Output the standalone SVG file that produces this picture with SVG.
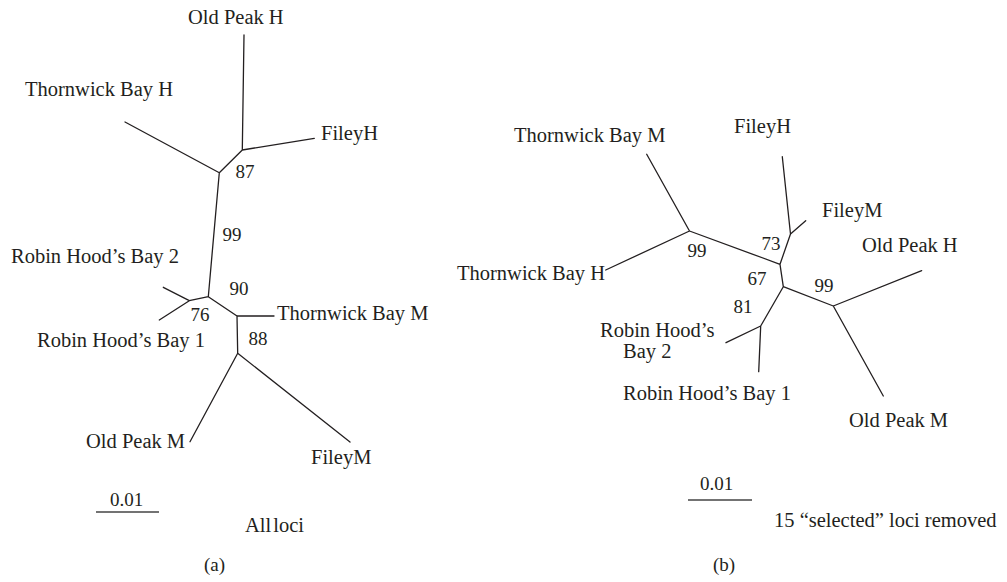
<svg xmlns="http://www.w3.org/2000/svg" width="1007" height="582" viewBox="0 0 1007 582">
<style>
text{font-family:"Liberation Serif","Times New Roman",serif;fill:#231f20}
.t{font-size:20.5px}
.n{font-size:19px;text-anchor:middle}
.s{font-size:19px}
.c{font-size:19px}
.e{fill:none;stroke:#231f20;stroke-width:1.3;stroke-linecap:round;stroke-linejoin:round}
.bar{stroke:#444;stroke-width:1.6}
</style>
<rect width="1007" height="582" fill="#fff"/>
<g id="connectors">
<!-- tree a -->
<path class="e" d="M244,35 L242.3,150 L314.3,138.3 M242.3,150 L219.3,172.7 L125,122 M219.3,172.7 L208.3,296.7 L189.3,300.7 L163.3,287.3 M189.3,300.7 L159.3,320 M208.3,296.7 L237,316 L274,316 M237,316 L237.7,353.3 L190,441.7 M237.7,353.3 L350,442"/>
<!-- tree b -->
<path class="e" d="M646.7,154.3 L689.5,231 L605.7,270 M689.5,231 L780,264.3 L790.5,234 L782.3,156.7 M790.5,234 L805.7,220.7 M780,264.3 L783.3,286.7 L833.3,306 L921.7,270.7 M833.3,306 L883.3,396 M783.3,286.7 L760.7,326 L726,342.7 M760.7,326 L758.7,371.7"/>
<line class="bar" x1="96" y1="512" x2="159" y2="512"/>
<line class="bar" x1="688" y1="500" x2="752" y2="500"/>
</g>
<g id="a-old-peak-h"><text class="t" x="188" y="24">Old Peak H</text></g>
<g id="a-thornwick-bay-h"><text class="t" x="25" y="96">Thornwick Bay H</text></g>
<g id="a-filey-h"><text class="t" x="321" y="140">FileyH</text></g>
<g id="a-rhb2"><text class="t" x="11" y="263">Robin Hood’s Bay 2</text></g>
<g id="a-thornwick-bay-m"><text class="t" x="277" y="320">Thornwick Bay M</text></g>
<g id="a-rhb1"><text class="t" x="37" y="347">Robin Hood’s Bay 1</text></g>
<g id="a-old-peak-m"><text class="t" x="86" y="448">Old Peak M</text></g>
<g id="a-filey-m"><text class="t" x="311" y="464">FileyM</text></g>
<g id="a-support">
<text class="n" x="245" y="178">87</text>
<text class="n" x="232" y="241">99</text>
<text class="n" x="239" y="295">90</text>
<text class="n" x="200" y="321">76</text>
<text class="n" x="258" y="345">88</text>
</g>
<g id="a-scale"><text class="s" x="110" y="506">0.01</text></g>
<g id="a-caption"><text class="t" x="245" y="532" word-spacing="-3">All loci</text>
<text class="c" x="204" y="571">(a)</text></g>

<g id="b-thornwick-bay-m"><text class="t" x="514" y="142">Thornwick Bay M</text></g>
<g id="b-thornwick-bay-h"><text class="t" x="457" y="280">Thornwick Bay H</text></g>
<g id="b-filey-h"><text class="t" x="734" y="133">FileyH</text></g>
<g id="b-filey-m"><text class="t" x="822" y="217">FileyM</text></g>
<g id="b-old-peak-h"><text class="t" x="862" y="252">Old Peak H</text></g>
<g id="b-rhb2"><text class="t" x="600" y="337">Robin Hood’s</text><text class="t" x="623" y="358">Bay 2</text></g>
<g id="b-rhb1"><text class="t" x="623" y="400">Robin Hood’s Bay 1</text></g>
<g id="b-old-peak-m"><text class="t" x="849" y="427">Old Peak M</text></g>
<g id="b-support">
<text class="n" x="697" y="257">99</text>
<text class="n" x="771" y="250">73</text>
<text class="n" x="757" y="285">67</text>
<text class="n" x="824" y="292">99</text>
<text class="n" x="743" y="313">81</text>
</g>
<g id="b-scale"><text class="s" x="700" y="490">0.01</text></g>
<g id="b-caption"><text class="t" x="774" y="527">15 “selected” loci removed</text>
<text class="c" x="713" y="571">(b)</text></g>
</svg>
